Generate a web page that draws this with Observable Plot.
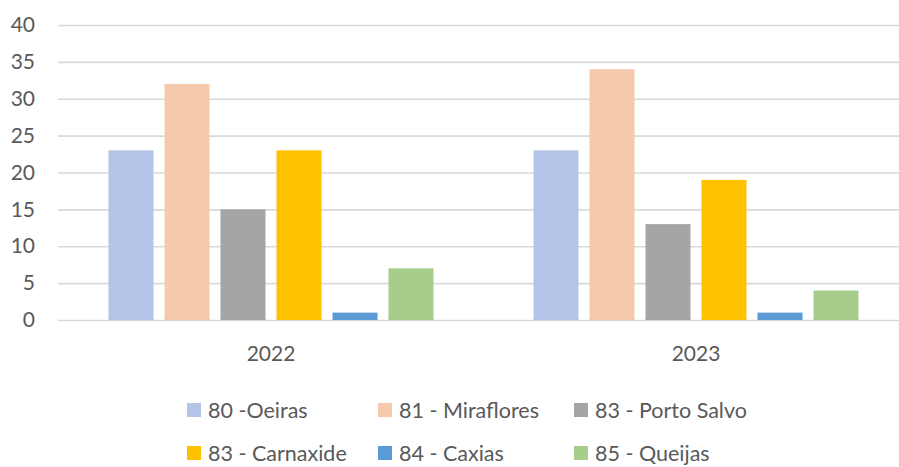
<!DOCTYPE html>
<html>
<head>
<meta charset="utf-8">
<script src="https://cdn.jsdelivr.net/npm/d3@7"></script>
<script src="https://cdn.jsdelivr.net/npm/@observablehq/plot@0.6"></script>
<style>
  html, body { margin: 0; padding: 0; background: #fff; overflow: hidden; width: 899px; height: 467px; }
  #chart { width: 908px; }
  #chart svg { display: block; max-width: none !important; }
  #legend { position: relative; height: 92px; font-family: Lato, sans-serif; font-size: 21.5px; color: #595959; }
  .item { position: absolute; display: flex; align-items: center; white-space: nowrap; height: 26px; line-height: 26px; }
  .sw { width: 14px; height: 14px; margin-right: 7px; }
</style>
</head>
<body>
<div id="chart"></div>
<div id="legend"></div>
<script>
const years = ["2022", "2023"];
const series = ["80 -Oeiras", "81 - Miraflores", "83 - Porto Salvo", "83 - Carnaxide", "84 - Caxias", "85 - Queijas"];
const values2022 = [23, 32, 15, 23, 1, 7];
const values2023 = [23, 34, 13, 19, 1, 4];
const colors = ["#B4C4E6", "#F4C9AC", "#A5A5A5", "#FFC000", "#5B9BD5", "#A6CD8B"];
const yTicks = [0, 5, 10, 15, 20, 25, 30, 35, 40];

const valuesByYear = {"2022": values2022, "2023": values2023};
const data = years.flatMap(y => series.map((s, i) => ({year: y, series: s, value: valuesByYear[y][i]})));

const chart = Plot.plot({
  width: 908,
  height: 375,
  marginLeft: 57.5,
  marginRight: 0,
  marginTop: 25,
  marginBottom: 55,
  style: {fontFamily: "Lato, sans-serif", fontSize: "21px", color: "#595959", background: "#fff"},
  fx: {domain: years, paddingInner: 0, paddingOuter: 0, tickSize: 0, tickPadding: 26, label: null},
  x: {domain: series, paddingInner: 0.2, paddingOuter: 0.86, axis: null},
  y: {domain: [0, 40], ticks: yTicks, tickSize: 0, tickPadding: 23.5, label: null},
  color: {domain: series, range: colors},
  marks: [
    Plot.ruleY(yTicks, {stroke: "#D9D9D9", strokeWidth: 1.6}),
    Plot.barY(data, {fx: "year", x: "series", y: "value", fill: "series"})
  ]
});
document.getElementById("chart").appendChild(chart);

const legend = document.getElementById("legend");
const colLeft = [187, 378, 574];
const rowTop = [22, 65];
series.forEach((s, i) => {
  const el = document.createElement("div");
  el.className = "item";
  el.style.left = colLeft[i % 3] + "px";
  el.style.top = rowTop[Math.floor(i / 3)] + "px";
  const sw = document.createElement("span");
  sw.className = "sw";
  sw.style.background = colors[i];
  const tx = document.createElement("span");
  tx.textContent = s;
  el.appendChild(sw);
  el.appendChild(tx);
  legend.appendChild(el);
});
</script>
</body>
</html>
